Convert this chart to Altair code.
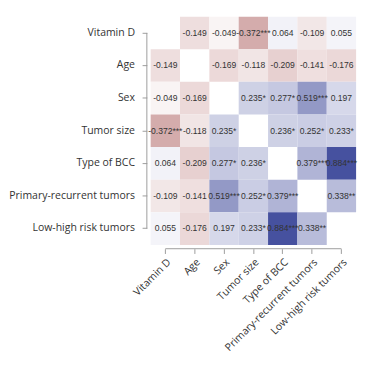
import altair as alt
import pandas as pd

labels = ["Vitamin D", "Age", "Sex", "Tumor size", "Type of BCC",
          "Primary-recurrent tumors", "Low-high risk tumors"]

# upper-triangle pairs (row index, col index, r, significance stars)
pair_i = [0, 0, 0, 0, 0, 0, 1, 1, 1, 1, 1, 2, 2, 2, 2, 3, 3, 3, 4, 4, 5]
pair_j = [1, 2, 3, 4, 5, 6, 2, 3, 4, 5, 6, 3, 4, 5, 6, 4, 5, 6, 5, 6, 6]
pair_r = [-0.149, -0.049, -0.372, 0.064, -0.109, 0.055,
          -0.169, -0.118, -0.209, -0.141, -0.176,
          0.235, 0.277, 0.519, 0.197,
          0.236, 0.252, 0.233,
          0.379, 0.884,
          0.338]
pair_sig = ["", "", "***", "", "", "",
            "", "", "", "", "",
            "*", "*", "***", "",
            "*", "*", "*",
            "***", "***",
            "**"]

rows = []
for i, j, r, s in zip(pair_i, pair_j, pair_r, pair_sig):
    txt = f"{r:.3f}" + s
    rows.append({"row": labels[i], "col": labels[j], "r": r, "txt": txt})
    rows.append({"row": labels[j], "col": labels[i], "r": r, "txt": txt})
df = pd.DataFrame(rows)

W, H = 216, 240
FONT = "Open Sans"
AX = "#999999"

xscale = alt.Scale(domain=labels, paddingInner=0, paddingOuter=0)
yscale = alt.Scale(domain=labels, paddingInner=0, paddingOuter=0)

xs = alt.X("col:N", scale=xscale, title=None,
           axis=alt.Axis(labelAngle=-45, domain=False, offset=4, tickColor=AX,
                         tickSize=5, labelFont=FONT, labelFontSize=11, labelColor="#333333",
                         labelPadding=3))
ys = alt.Y("row:N", scale=yscale, title=None,
           axis=alt.Axis(domain=False, offset=4, tickColor=AX, tickSize=5,
                         labelFont=FONT, labelFontSize=11, labelColor="#333333",
                         labelPadding=8))

base = alt.Chart(df)
rects = base.mark_rect().encode(
    x=xs, y=ys,
    color=alt.Color("r:Q", legend=None,
                    scale=alt.Scale(domain=[-1, 0, 1],
                                    range=["#8c1f1f", "#ffffff", "#2e3a92"],
                                    interpolate="rgb")),
)
texts = base.mark_text(font="Liberation Sans", fontSize=9, color="#333333").encode(
    x=alt.X("col:N", scale=xscale), y=alt.Y("row:N", scale=yscale), text="txt:N"
)

axis_df = pd.DataFrame({"a": [labels[0]], "b": [labels[-1]]})
yline = alt.Chart(axis_df).mark_rule(color=AX, strokeWidth=1).encode(
    y=alt.Y("a:N", scale=yscale), y2="b:N", x=alt.value(-4)
)
xline = alt.Chart(axis_df).mark_rule(color=AX, strokeWidth=1).encode(
    x=alt.X("a:N", scale=xscale), x2="b:N", y=alt.value(H + 4)
)

chart = alt.layer(rects, texts, yline, xline).properties(
    width=W, height=H, padding=0
).configure_view(stroke=None)

chart.save("out.html", embed_options={"renderer": "svg", "actions": False})
